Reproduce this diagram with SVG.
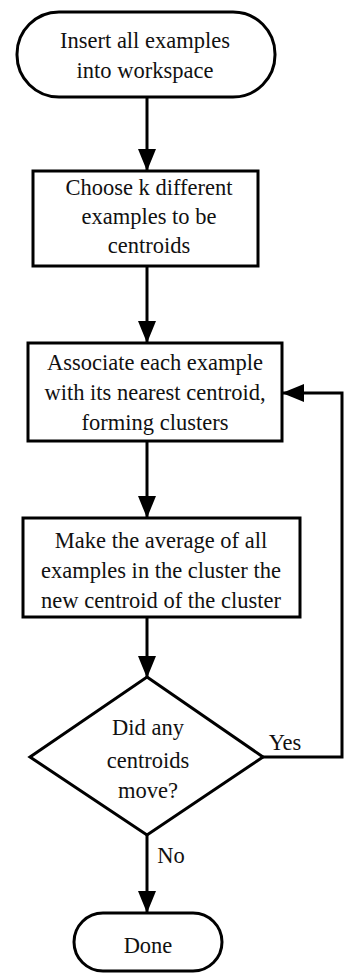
<svg xmlns="http://www.w3.org/2000/svg" width="347" height="974" viewBox="0 0 347 974">
<style>
.s{fill:#fff;stroke:#000;stroke-width:3}
text{font-family:'Liberation Serif','DejaVu Serif',serif;font-size:22.5px;fill:#111;text-anchor:middle}
.c{fill:none;stroke:#000;stroke-width:3}
</style>
<defs>
<marker id="ah" markerUnits="userSpaceOnUse" markerWidth="22" markerHeight="18" refX="21" refY="9" orient="auto">
<path d="M0,0 L22,9 L0,18 z" fill="#000"/>
</marker>
</defs>
<rect width="347" height="974" fill="#fff"/>
<g id="connectors">
<path class="c" d="M147,97 L147,170" marker-end="url(#ah)"/>
<path class="c" d="M147,266 L147,342" marker-end="url(#ah)"/>
<path class="c" d="M147,441 L147,517" marker-end="url(#ah)"/>
<path class="c" d="M147,617 L147,677" marker-end="url(#ah)"/>
<path class="c" d="M147,835 L147,912" marker-end="url(#ah)"/>
<path class="c" d="M263,757 L342,757 L342,393 L283,393" marker-end="url(#ah)"/>
<text font-family="Liberation Serif" x="285" y="750">Yes</text>
<text font-family="Liberation Serif" x="171" y="863">No</text>
</g>
<g id="start">
<rect class="s" x="17" y="12" width="258" height="85" rx="42"/>
<text font-family="Liberation Serif" x="145" y="48">Insert all examples</text>
<text font-family="Liberation Serif" x="145" y="78">into workspace</text>
</g>
<g id="choose">
<rect class="s" x="33" y="171" width="225" height="95"/>
<text font-family="Liberation Serif" x="149" y="195">Choose k different</text>
<text font-family="Liberation Serif" x="149" y="224">examples to be</text>
<text font-family="Liberation Serif" x="149" y="253">centroids</text>
</g>
<g id="associate">
<rect class="s" x="28" y="343" width="254" height="98"/>
<text font-family="Liberation Serif" x="155" y="370">Associate each example</text>
<text font-family="Liberation Serif" x="155" y="400">with its nearest centroid,</text>
<text font-family="Liberation Serif" x="155" y="430">forming clusters</text>
</g>
<g id="average">
<rect class="s" x="23" y="518" width="277" height="99"/>
<text font-family="Liberation Serif" x="161" y="548">Make the average of all</text>
<text font-family="Liberation Serif" x="161" y="578">examples in the cluster the</text>
<text font-family="Liberation Serif" x="161" y="608">new centroid of the cluster</text>
</g>
<g id="decision">
<polygon class="s" points="147,677 263,757 147,835 30,757"/>
<text font-family="Liberation Serif" x="148" y="735">Did any</text>
<text font-family="Liberation Serif" x="148" y="768">centroids</text>
<text font-family="Liberation Serif" x="148" y="798">move?</text>
</g>
<g id="done">
<rect class="s" x="74" y="913" width="148" height="58" rx="29"/>
<text font-family="Liberation Serif" x="148" y="953">Done</text>
</g>
</svg>
